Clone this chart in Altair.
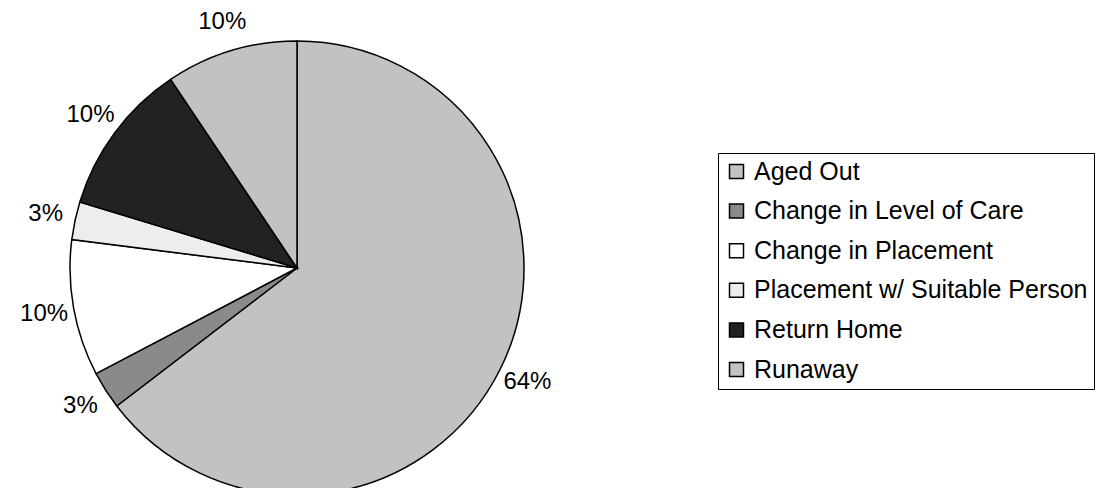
import altair as alt
import pandas as pd

categories = ["Aged Out", "Change in Level of Care", "Change in Placement",
              "Placement w/ Suitable Person", "Return Home", "Runaway"]
shares = [64.6, 2.7, 9.7, 2.7, 10.9, 9.4]
label_text = ["64%", "3%", "10%", "3%", "10%", "10%"]
fills = ["#c2c2c2", "#8a8a8a", "#ffffff", "#ededed", "#222222", "#c2c2c2"]

df = pd.DataFrame({
    "category": categories,
    "share": shares,
    "label": label_text,
    "order": list(range(len(categories))),
})

FONT = "Liberation Sans"

base = alt.Chart(df).encode(
    theta=alt.Theta("share:Q", stack=True),
    order=alt.Order("order:Q"),
    x=alt.value(289),
    y=alt.value(260),
)

pie = base.mark_arc(radius=227, stroke="black", strokeWidth=1.5, opacity=1).encode(
    color=alt.Color(
        "category:N",
        sort=categories,
        scale=alt.Scale(domain=categories, range=fills),
        legend=alt.Legend(
            title=None,
            orient="none",
            legendX=710,
            legendY=145,
            symbolType="square",
            symbolSize=196,
            symbolStrokeColor="black",
            symbolStrokeWidth=1.5,
            symbolOpacity=1,
            labelFont=FONT,
            labelFontSize=25,
            labelColor="black",
            labelOffset=5,
            labelLimit=600,
            rowPadding=13.6,
            padding=6,
            strokeColor="black",
            fillColor="white",
            cornerRadius=0,
        ),
    )
)

labels = base.mark_text(radius=257, font=FONT, fontSize=24, color="black").encode(
    text="label:N"
)

chart = (pie + labels).properties(
    width=1093,
    height=480,
    autosize=alt.AutoSizeParams(type="none"),
    padding=0,
).configure_view(stroke=None)

chart.save("out.html", embed_options={"renderer": "svg", "actions": False})
